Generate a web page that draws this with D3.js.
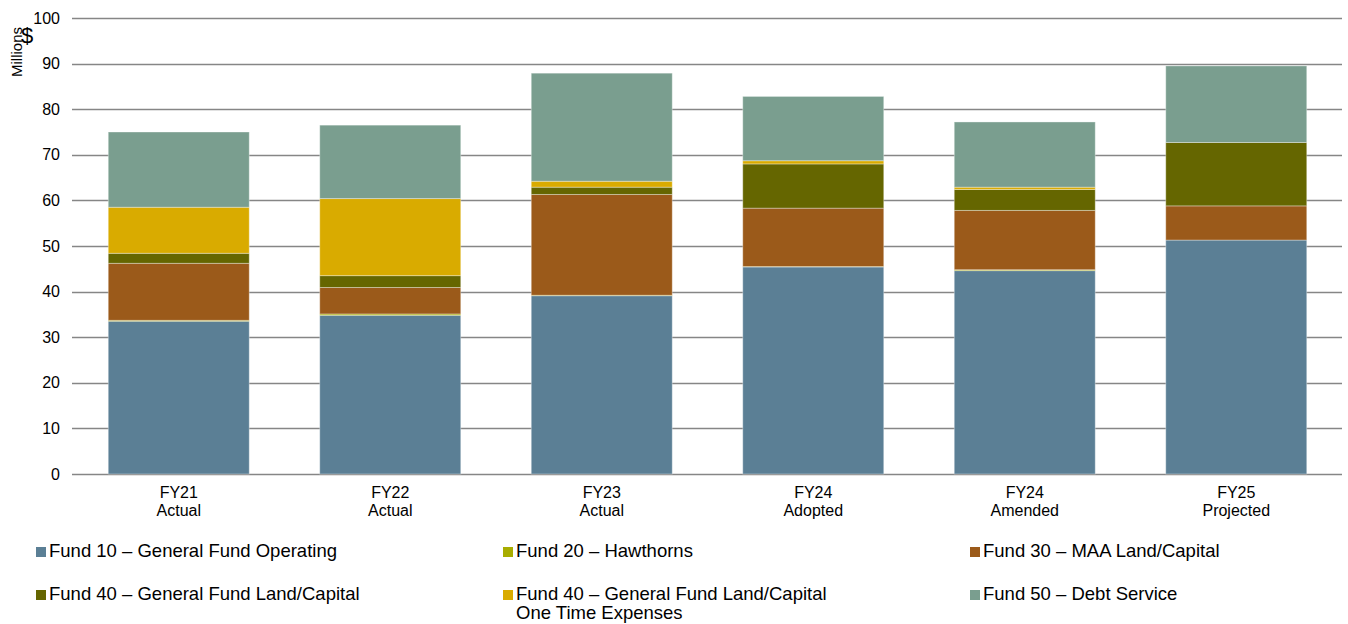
<!DOCTYPE html>
<html>
<head>
<meta charset="utf-8">
<script src="https://cdn.jsdelivr.net/npm/d3@7"></script>
<style>
  body { margin: 0; background: #fff; }
  svg { display: block; font-family: "Liberation Sans", Arial, sans-serif; }
</style>
</head>
<body>
<svg id="chart"></svg>
<script>
// categories (two-line labels)
var years = ["FY21", "FY22", "FY23", "FY24", "FY24", "FY25"];
var stages = ["Actual", "Actual", "Actual", "Adopted", "Amended", "Projected"];

// series, $ millions
var fund10 = [33.5, 34.8, 39.1, 45.4, 44.6, 51.3];
var fund20 = [0.2, 0.3, 0.1, 0.1, 0.2, 0.0];
var fund30 = [12.5, 5.8, 22.1, 12.8, 13.0, 7.5];
var fund40 = [2.2, 2.6, 1.6, 9.7, 4.6, 13.9];
var fund40ot = [10.1, 16.9, 1.3, 0.7, 0.5, 0.0];
var fund50 = [16.5, 16.1, 23.7, 14.1, 14.3, 16.8];

var seriesNames = [
    "Fund 10 \u2013 General Fund Operating",
    "Fund 20 \u2013 Hawthorns",
    "Fund 30 \u2013 MAA Land/Capital",
    "Fund 40 \u2013 General Fund Land/Capital",
    "Fund 40 \u2013 General Fund Land/Capital\nOne Time Expenses",
    "Fund 50 \u2013 Debt Service"
];
var seriesColors = ["#5b7f95", "#a8ad00", "#9b5a1a", "#656600", "#d9ab00", "#7a9e8f"];
var yTicks = [0, 10, 20, 30, 40, 50, 60, 70, 80, 90, 100];

var w = 1348, h = 624;
var plotLeft = 73, plotRight = 1342, plotTop = 18, plotBottom = 474;

var svg = d3.select("#chart").attr("width", w).attr("height", h);

var allSeries = [fund10, fund20, fund30, fund40, fund40ot, fund50];
var rows = years.map(function (y, i) {
    var r = { idx: i };
    allSeries.forEach(function (s, k) { r["s" + k] = s[i]; });
    return r;
});
var keys = allSeries.map(function (s, k) { return "s" + k; });
var stacked = d3.stack().keys(keys)(rows);

var x = d3.scaleBand()
    .domain(d3.range(years.length))
    .range([plotLeft, plotRight])
    .paddingInner(1 / 3)
    .paddingOuter(1 / 6);

var y = d3.scaleLinear().domain([0, 100]).range([plotBottom, plotTop]);

// gridlines
svg.append("g").selectAll("line")
    .data(yTicks)
    .enter().append("line")
    .attr("x1", plotLeft - 1).attr("x2", plotRight)
    .attr("y1", function (d) { return Math.round(y(d)) + 0.5; })
    .attr("y2", function (d) { return Math.round(y(d)) + 0.5; })
    .attr("stroke", "#868686")
    .attr("stroke-width", 1.6);

// y axis labels
var yAxis = d3.axisLeft(y).tickValues(yTicks).tickSize(0).tickPadding(13);
var yg = svg.append("g").attr("transform", "translate(" + plotLeft + ",0)").call(yAxis);
yg.select(".domain").remove();
yg.selectAll("text")
    .attr("fill", "#000")
    .style("font-size", "16px")
    .style("font-family", "Liberation Sans, Arial, sans-serif");

// unit labels
svg.append("text")
    .attr("transform", "translate(22,52) rotate(-90)")
    .attr("text-anchor", "middle")
    .style("font-size", "15px")
    .attr("fill", "#000")
    .text("Millions");
svg.append("text")
    .attr("x", 27).attr("y", 43)
    .attr("text-anchor", "middle")
    .style("font-size", "22px")
    .attr("fill", "#000")
    .text("$");

// bars
svg.append("g").selectAll("g")
    .data(stacked)
    .enter().append("g")
    .attr("fill", function (d, k) { return seriesColors[k]; })
    .selectAll("rect")
    .data(function (d) { return d; })
    .enter().append("rect")
    .attr("x", function (d) { return x(d.data.idx); })
    .attr("width", x.bandwidth())
    .attr("y", function (d) { return y(d[1]); })
    .attr("height", function (d) { return Math.max(0, y(d[0]) - y(d[1])); })
    .attr("stroke", "rgba(255,255,255,0.35)")
    .attr("stroke-width", 1);

// x labels
var xl = svg.append("g").selectAll("text")
    .data(years)
    .enter().append("text")
    .attr("x", function (d, i) { return x(i) + x.bandwidth() / 2; })
    .attr("y", 498)
    .attr("text-anchor", "middle")
    .style("font-size", "16px")
    .attr("fill", "#000");
xl.append("tspan").text(function (d) { return d; });
xl.append("tspan")
    .attr("x", function (d, i) { return x(i) + x.bandwidth() / 2; })
    .attr("dy", 18)
    .text(function (d, i) { return stages[i]; });

// legend
var legendCols = [36, 503, 970], legendRows = [557, 600];
var legend = svg.append("g").selectAll("g")
    .data(seriesNames)
    .enter().append("g")
    .attr("transform", function (d, i) {
        return "translate(" + legendCols[i % 3] + "," + legendRows[Math.floor(i / 3)] + ")";
    });
legend.append("rect")
    .attr("x", 0).attr("y", -10)
    .attr("width", 10).attr("height", 10)
    .attr("fill", function (d, i) { return seriesColors[i]; });
legend.append("text")
    .attr("x", 13).attr("y", 0)
    .style("font-size", "18.5px")
    .attr("fill", "#000")
    .each(function (d) {
        var t = d3.select(this);
        d.split("\n").forEach(function (line, j) {
            t.append("tspan")
                .attr("x", 13)
                .attr("dy", j === 0 ? 0 : 19)
                .text(line);
        });
    });
</script>
</body>
</html>
